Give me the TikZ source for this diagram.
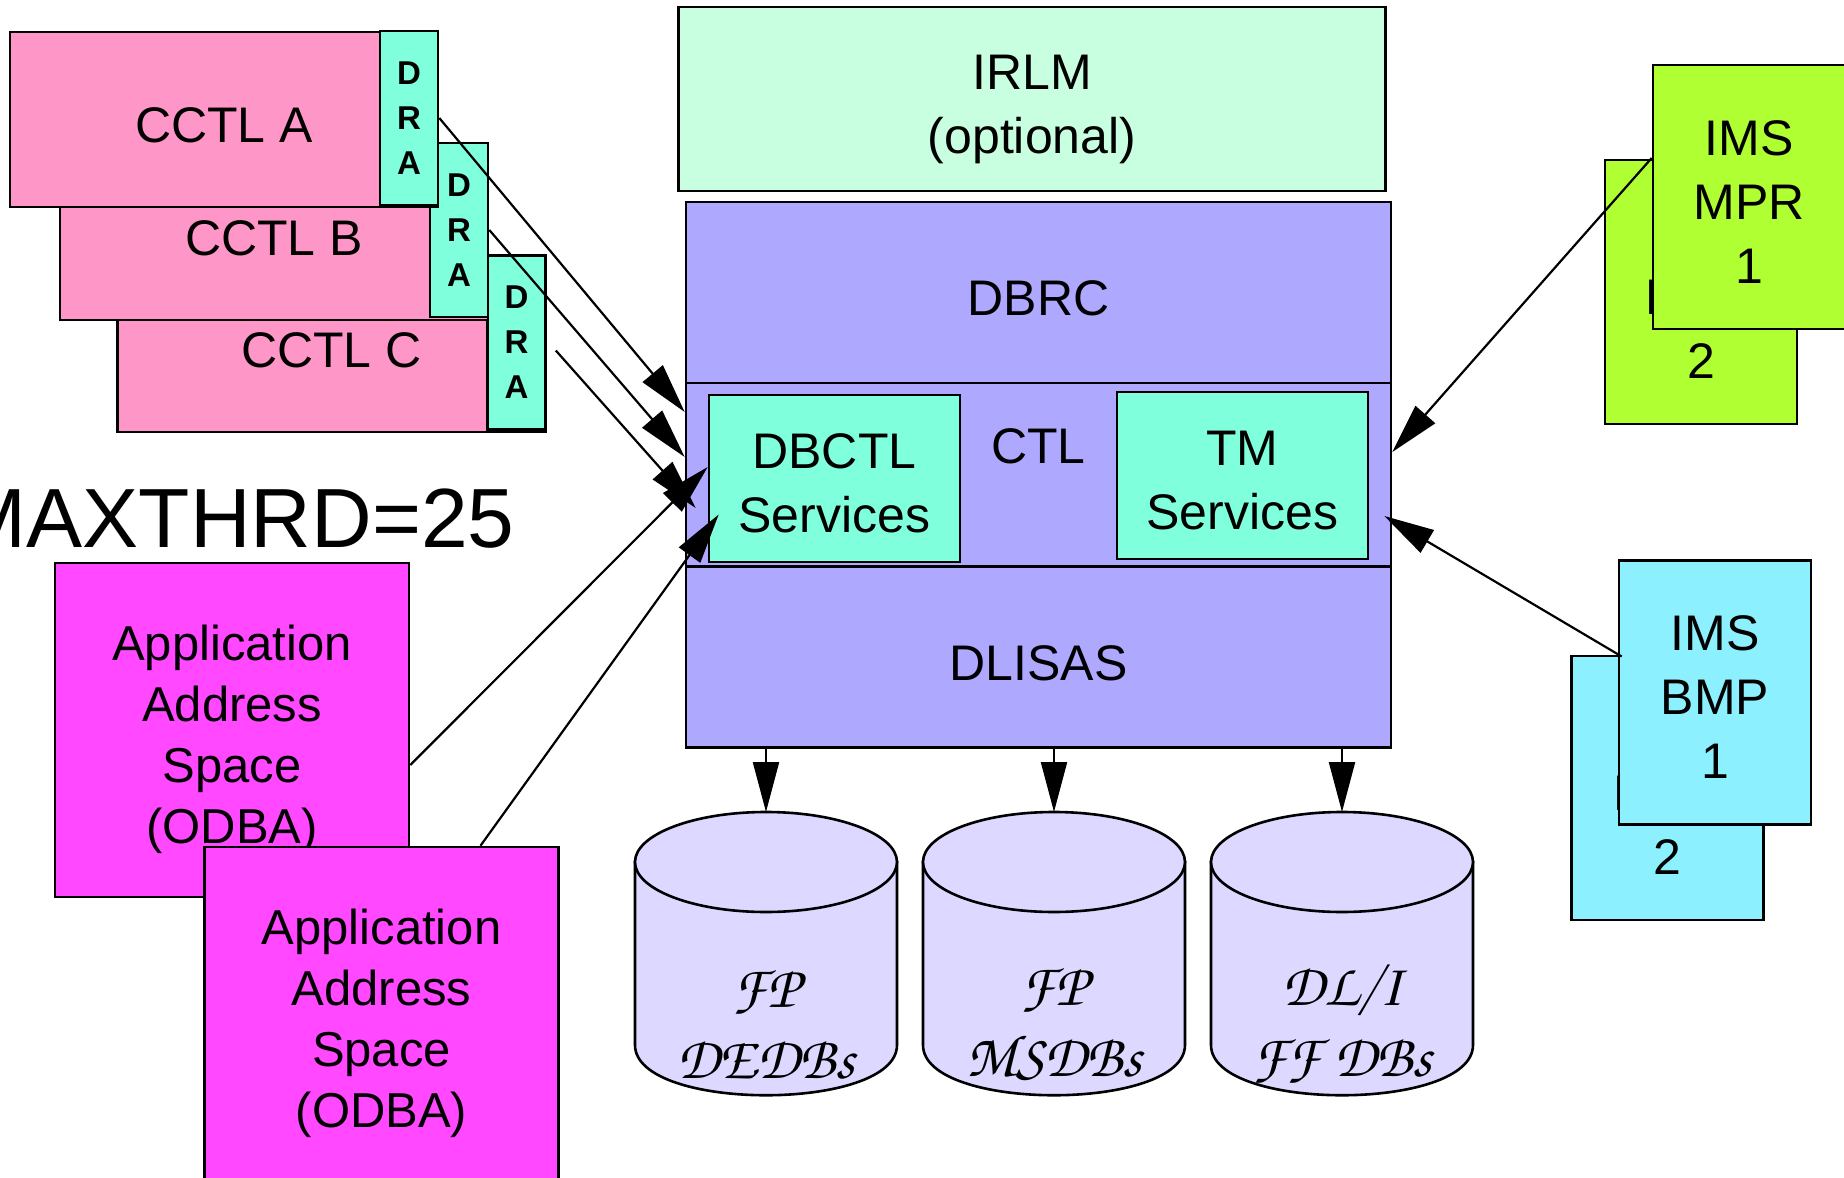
\documentclass[tikz,border=0pt]{standalone}
\usepackage{fontspec}
\setmainfont{Liberation Sans}
\usepackage[T1,TU]{fontenc}
\usetikzlibrary{arrows.meta}

\definecolor{cctlpink}{HTML}{FF96C8}
\definecolor{draaqua}{HTML}{7FFFDC}
\definecolor{irlmgreen}{HTML}{C8FFE0}
\definecolor{mainlilac}{HTML}{AFA8FF}
\definecolor{appmagenta}{HTML}{FF48FF}
\definecolor{mprgreen}{HTML}{B0FF33}
\definecolor{bmpcyan}{HTML}{8CF0FF}
\definecolor{dblilac}{HTML}{DCD8FF}

\newcommand{\boxfont}{\fontsize{25}{32}\selectfont}
\newcommand{\appfont}{\fontsize{24.5}{30.5}\selectfont}
\newcommand{\drafont}{\fontsize{16.5}{22.5}\selectfont\bfseries}
\newcommand{\dbfont}{\fontencoding{T1}\fontfamily{pzc}\fontseries{mb}\fontshape{it}\fontsize{30}{35.5}\selectfont}

\tikzset{
  box/.style={draw, line width=1.3pt, inner sep=0pt, align=center, text depth=0pt, font=\boxfont},
  cctlbox/.style={box, fill=cctlpink, minimum width=214pt, minimum height=87.5pt, text height=23pt},
  drabox/.style={box, fill=draaqua, minimum width=29pt, minimum height=87pt, font=\drafont},
  appbox/.style={box, fill=appmagenta, minimum width=177pt, minimum height=167pt, text height=113.5pt, font=\appfont},
  irlmbox/.style={box, fill=irlmgreen, minimum width=353.5pt, minimum height=92pt, text height=54pt},
  mainbox/.style={box, fill=mainlilac, minimum width=352.5pt, minimum height=90.5pt, text height=23pt},
  svcbox/.style={box, fill=draaqua, minimum width=125.5pt, minimum height=83.5pt, text height=53.5pt},
  mprbox/.style={box, fill=mprgreen, minimum width=96pt, minimum height=132pt, text height=86pt},
  bmpbox/.style={box, fill=bmpcyan, minimum width=96pt, minimum height=132pt, text height=86pt},
  dbcyl/.style={draw, line width=1.3pt, fill=dblilac},
  conn/.style={line width=1.1pt, -{Triangle[length=25pt,width=13pt]}}
}

\begin{document}
\begin{tikzpicture}[x=0.5pt,y=-0.5pt]
  \useasboundingbox (0,0) rectangle (1844,1178);

  % coupled CCTL regions
  \node[cctlbox] (cctlc) at (331.5,344.5) {CCTL C};
  \node[drabox] (drac) at (516.5,342.5) {D\\R\\A};
  \node[cctlbox] (cctlb) at (274,232.5) {CCTL B};
  \node[drabox] (drab) at (459,230) {D\\R\\A};
  \node[cctlbox] (cctla) at (224,119.5) {CCTL A};
  \node[drabox] (draa) at (409,118) {D\\R\\A};

  \node[font=\fontsize{42}{42}\selectfont, anchor=base east, inner sep=0pt] (maxthrd) at (515,547) {MAXTHRD=25};

  % ODBA address spaces
  \node[appbox] (appa) at (232,730) {Application\\Address\\Space\\(ODBA)};
  \node[appbox] (appb) at (381.5,1014) {Application\\Address\\Space\\(ODBA)};

  % DBCTL subsystem
  \node[irlmbox] (irlm) at (1032,99) {IRLM\\(optional)};
  \node[mainbox] (dbrc) at (1038.5,292.5) {DBRC};
  \node[mainbox, minimum height=92pt] (ctl) at (1038.5,475) {};
  \node[font=\boxfont] (ctltxt) at (1038.5,446) {CTL};
  \node[mainbox] (dlisas) at (1038.5,657) {DLISAS};
  \node[svcbox] (dbctl) at (834.5,478.5) {DBCTL\\Services};
  \node[svcbox] (tmsvc) at (1242.5,475.5) {TM\\Services};

  % dependent regions
  \node[mprbox] (mprb) at (1701,292) {IMS\\MPR\\2};
  \node[mprbox] (mpra) at (1749,197) {IMS\\MPR\\1};
  \node[bmpbox] (bmpb) at (1667.5,788) {IMS\\BMP\\2};
  \node[bmpbox] (bmpa) at (1715,692.5) {IMS\\BMP\\1};

  % databases
  \foreach \cx/\nm/\txt in {766/dedb/{FP\\DEDBs}, 1054/msdb/{FP\\MSDBs}, 1342/ffdb/{DL/I\\FF DBs}} {
    \filldraw[dbcyl] (\cx-131,862) -- (\cx-131,1045) .. controls (\cx-131,1112) and (\cx+131,1112) .. (\cx+131,1045) -- (\cx+131,862) -- cycle;
    \filldraw[dbcyl] (\cx,862) ellipse [x radius=131, y radius=50];
    \node[font=\dbfont, align=center, inner sep=0pt] (\nm) at (\cx,1025) {\txt};
    \coordinate (\nm top) at (\cx,812);
  }

  % connections
  \draw[conn] (draa.east) -- ([yshift=31.5pt]ctl.west);
  \draw[conn] (drab.east) -- ([yshift=9pt]ctl.west);
  \draw[conn] ([xshift=4.5pt,yshift=-4pt]drac.east) -- ([xshift=5.5pt,yshift=-16.5pt]ctl.west);
  \draw[conn] ([yshift=-17.5pt]appa.east) -- ([yshift=5.75pt]dbctl.west);
  \draw[conn] ([xshift=49.5pt]appb.north) -- ([xshift=5.5pt,yshift=-18pt]dbctl.west);
  \draw[conn] ([yshift=19.5pt]mpra.west) -- ([yshift=11.5pt]ctl.east);
  \draw[conn] ([xshift=2pt,yshift=18pt]bmpa.west) -- ([xshift=-4pt,yshift=-20.5pt]ctl.east);
  \foreach \nm in {dedb,msdb,ffdb}
    \draw[conn] (\nm top |- dlisas.south) -- (\nm top);

\end{tikzpicture}
\end{document}
